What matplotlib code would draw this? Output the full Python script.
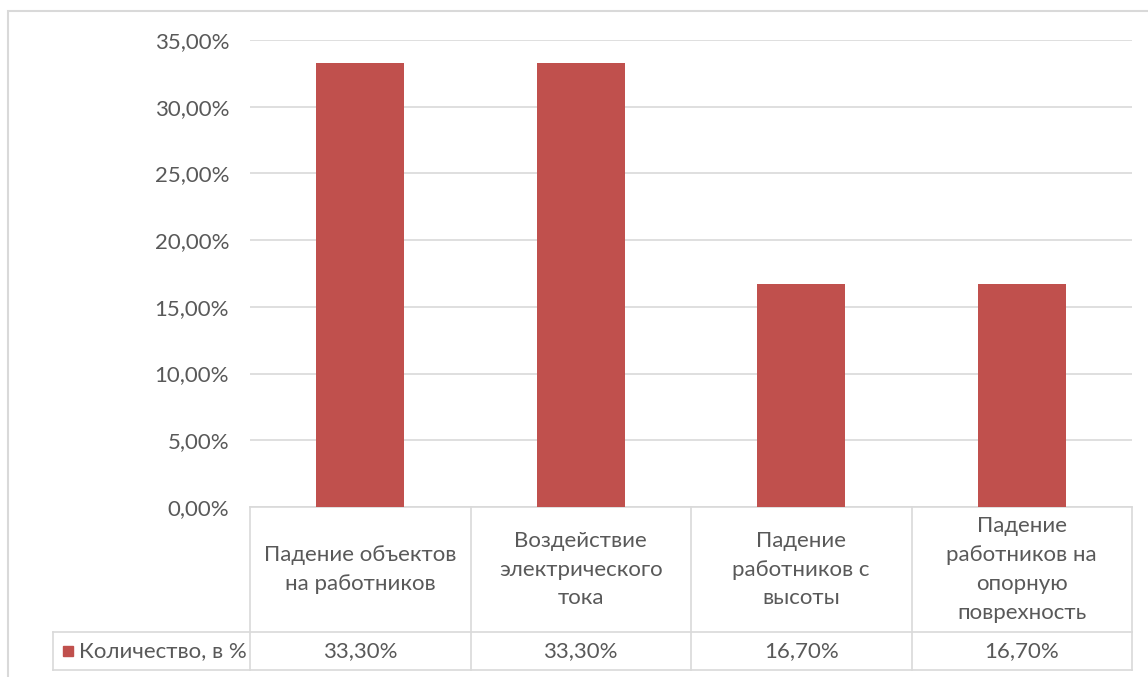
import matplotlib.pyplot as plt
from matplotlib.lines import Line2D
from matplotlib.patches import Rectangle
from matplotlib.ticker import FuncFormatter

plt.rcParams['font.family'] = ['Lato', 'DejaVu Sans']

categories = ["Падение объектов\nна работников",
              "Воздействие\nэлектрического\nтока",
              "Падение\nработников с\nвысоты",
              "Падение\nработников на\nопорную\nповрехность"]
values = [0.333, 0.333, 0.167, 0.167]
value_labels = ["33,30%", "33,30%", "16,70%", "16,70%"]
series_name = "Количество, в %"

bar_color = '#C0504D'
text_color = '#595959'
line_color = '#D9D9D9'
fs = 16

W, H = 1148, 677
fig = plt.figure(figsize=(W/100, H/100), dpi=100)
ax = fig.add_axes([250/W, 1-507/H, (1132-250)/W, (507-40)/H])

x = list(range(len(categories)))
ax.bar(x, values, width=0.4, color=bar_color, zorder=3)
ax.set_xlim(-0.5, 3.5)
ax.set_ylim(0, 0.35)
ax.set_yticks([i*0.05 for i in range(8)])
ax.yaxis.set_major_formatter(FuncFormatter(lambda v, p: ("%.2f%%" % (v*100)).replace('.', ',')))
ax.tick_params(axis='y', length=0, pad=15, labelsize=fs, labelcolor=text_color)
ax.set_xticks([])
ax.grid(axis='y', color=line_color, linewidth=1.2, zorder=0)
for s in ax.spines.values():
    s.set_visible(False)

# data table under the axis
tr = ax.get_xaxis_transform()
row1 = -(632-507)/467
row2 = -(670-507)/467
left = -0.5 - 197/220.5
lk = dict(color=line_color, linewidth=1.2, transform=tr, clip_on=False)
ax.add_line(Line2D([-0.5, 3.5], [0, 0], **lk))
ax.add_line(Line2D([left, 3.5], [row1, row1], **lk))
ax.add_line(Line2D([left, 3.5], [row2, row2], **lk))
ax.add_line(Line2D([left, left], [row1, row2], **lk))
for i in range(len(categories)+1):
    ax.add_line(Line2D([i-0.5, i-0.5], [0, row2], **lk))

for i, (c, v) in enumerate(zip(categories, value_labels)):
    ax.text(i, row1/2, c, transform=tr, ha='center', va='center',
            fontsize=fs, color=text_color, linespacing=1.55)
    ax.text(i, (row1+row2)/2, v, transform=tr, ha='center', va='center',
            fontsize=fs, color=text_color)

ax.add_patch(Rectangle((left + 0.045, (row1+row2)/2 - 0.011), 0.045, 0.022,
                       transform=tr, color=bar_color, clip_on=False))
ax.text(left + 0.12, (row1+row2)/2, series_name, transform=tr, ha='left', va='center',
        fontsize=fs, color=text_color)

# chart border
fig.add_artist(Rectangle((8/W, -0.1), 2, 1-11/H+0.1, transform=fig.transFigure,
                         fill=False, edgecolor=line_color, linewidth=1.5))

plt.savefig('out.png', dpi=100)
